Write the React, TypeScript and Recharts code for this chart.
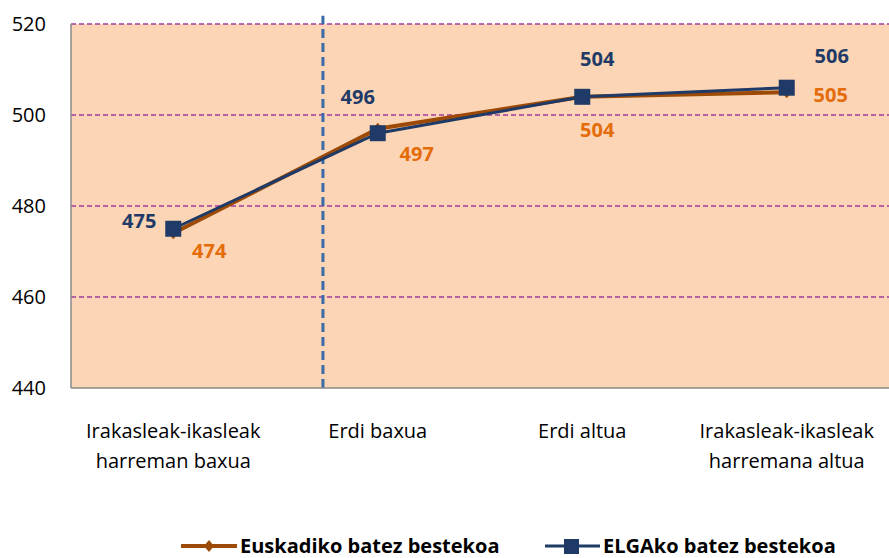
import React from 'react';
import {
  CartesianGrid,
  LineChart,
  Line,
  XAxis,
  YAxis,
  ReferenceLine,
  Legend,
} from 'recharts';

const categories = [
  ['Irakasleak-ikasleak', 'harreman baxua'],
  ['Erdi baxua'],
  ['Erdi altua'],
  ['Irakasleak-ikasleak', 'harremana altua'],
];
const euskadi = [474, 497, 504, 505];
const elga = [475, 496, 504, 506];
const yTicks = [440, 460, 480, 500, 520];

const BROWN = '#9C4A06';
const NAVY = '#1F3A66';
const ORANGE = '#E46C0A';
const FONT = '"Open Sans", "Liberation Sans", sans-serif';

const data = categories.map((c, i) => ({ x: i, euskadi: euskadi[i], elga: elga[i] }));

// label offsets relative to the point (dx, dy of text centre)
const navyOff = [[-34, -8], [-20, -37], [15, -38], [45, -32]];
const orangeOff = [[36, 17], [39, 25], [15, 33], [44, 2]];

const makeLabel = (offs: number[][], color: string) => (props: any) => {
  const { x, y, index, value } = props;
  const [dx, dy] = offs[index];
  return (
    <text
      x={x + dx}
      y={y + dy}
      textAnchor="middle"
      dominantBaseline="central"
      fill={color}
      fontFamily={FONT}
      fontWeight={700}
      fontSize={20}
    >
      {value}
    </text>
  );
};

const Diamond = (props: any) => {
  const { cx, cy } = props;
  return <path d={`M${cx},${cy - 6}L${cx + 5},${cy}L${cx},${cy + 6}L${cx - 5},${cy}Z`} fill={BROWN} />;
};

const Square = (props: any) => {
  const { cx, cy } = props;
  return <rect x={cx - 8} y={cy - 8} width={16} height={16} fill={NAVY} />;
};

const CatTick = (props: any) => {
  const { x, y, payload } = props;
  const lines = categories[payload.value] || [];
  return (
    <text x={x} y={y} textAnchor="middle" fill="#000" fontFamily={FONT} fontSize={20}>
      {lines.map((l, i) => (
        <tspan key={i} x={x} dy={i === 0 ? 42 : 30}>
          {l}
        </tspan>
      ))}
    </text>
  );
};

const LegendContent = () => (
  <svg width={889} height={36}>
    <g>
      <line x1={181} y1={24} x2={237} y2={24} stroke={BROWN} strokeWidth={4} />
      <path d="M209,18L214,24L209,30L204,24Z" fill={BROWN} />
      <text x={240} y={23} dominantBaseline="central" fontFamily={FONT} fontWeight={700} fontSize={20}>
        Euskadiko batez bestekoa
      </text>
    </g>
    <g>
      <line x1={545} y1={24} x2={600} y2={24} stroke={NAVY} strokeWidth={3} />
      <rect x={564} y={17} width={15} height={15} fill={NAVY} />
      <text x={603} y={23} dominantBaseline="central" fontFamily={FONT} fontWeight={700} fontSize={20}>
        ELGAko batez bestekoa
      </text>
    </g>
  </svg>
);

export default function App() {
  return (
    <div style={{ position: 'absolute', left: 0, top: 0, width: 889, height: 558, background: '#fff' }}>
      <LineChart width={889} height={558} data={data} margin={{ top: 24, right: 0, left: 0, bottom: 0 }}>
        <CartesianGrid
          vertical={false}
          fill="#FBD5B5"
          stroke="#A33BA0"
          strokeDasharray="5 3"
          strokeWidth={1.3}
          horizontalValues={[460, 480, 500, 520]}
        />
        <XAxis
          type="number"
          dataKey="x"
          domain={[-0.5, 3.5]}
          ticks={[0, 1, 2, 3]}
          tick={<CatTick />}
          tickLine={false}
          axisLine={{ stroke: '#888', strokeWidth: 1.5 }}
          height={134}
          interval={0}
        />
        <YAxis
          domain={[440, 520]}
          ticks={yTicks}
          tickLine={false}
          axisLine={{ stroke: '#888', strokeWidth: 1.5 }}
          width={71}
          tick={{ fill: '#000', fontFamily: FONT, fontSize: 20 }}
          tickMargin={19}
        />
        <ReferenceLine
          segment={[{ x: 0.732, y: 440 }, { x: 0.732, y: 521.8 }]}
          stroke="#3A6AA8"
          strokeWidth={3}
          strokeDasharray="9 5"
          ifOverflow="visible"
        />
        <Legend verticalAlign="bottom" height={36} content={<LegendContent />} />
        <Line
          dataKey="euskadi"
          type="linear"
          stroke={BROWN}
          strokeWidth={4}
          dot={<Diamond />}
          activeDot={false}
          label={makeLabel(orangeOff, ORANGE)}
          isAnimationActive={false}
        />
        <Line
          dataKey="elga"
          type="linear"
          stroke={NAVY}
          strokeWidth={3}
          dot={<Square />}
          activeDot={false}
          label={makeLabel(navyOff, NAVY)}
          isAnimationActive={false}
        />
      </LineChart>
    </div>
  );
}
